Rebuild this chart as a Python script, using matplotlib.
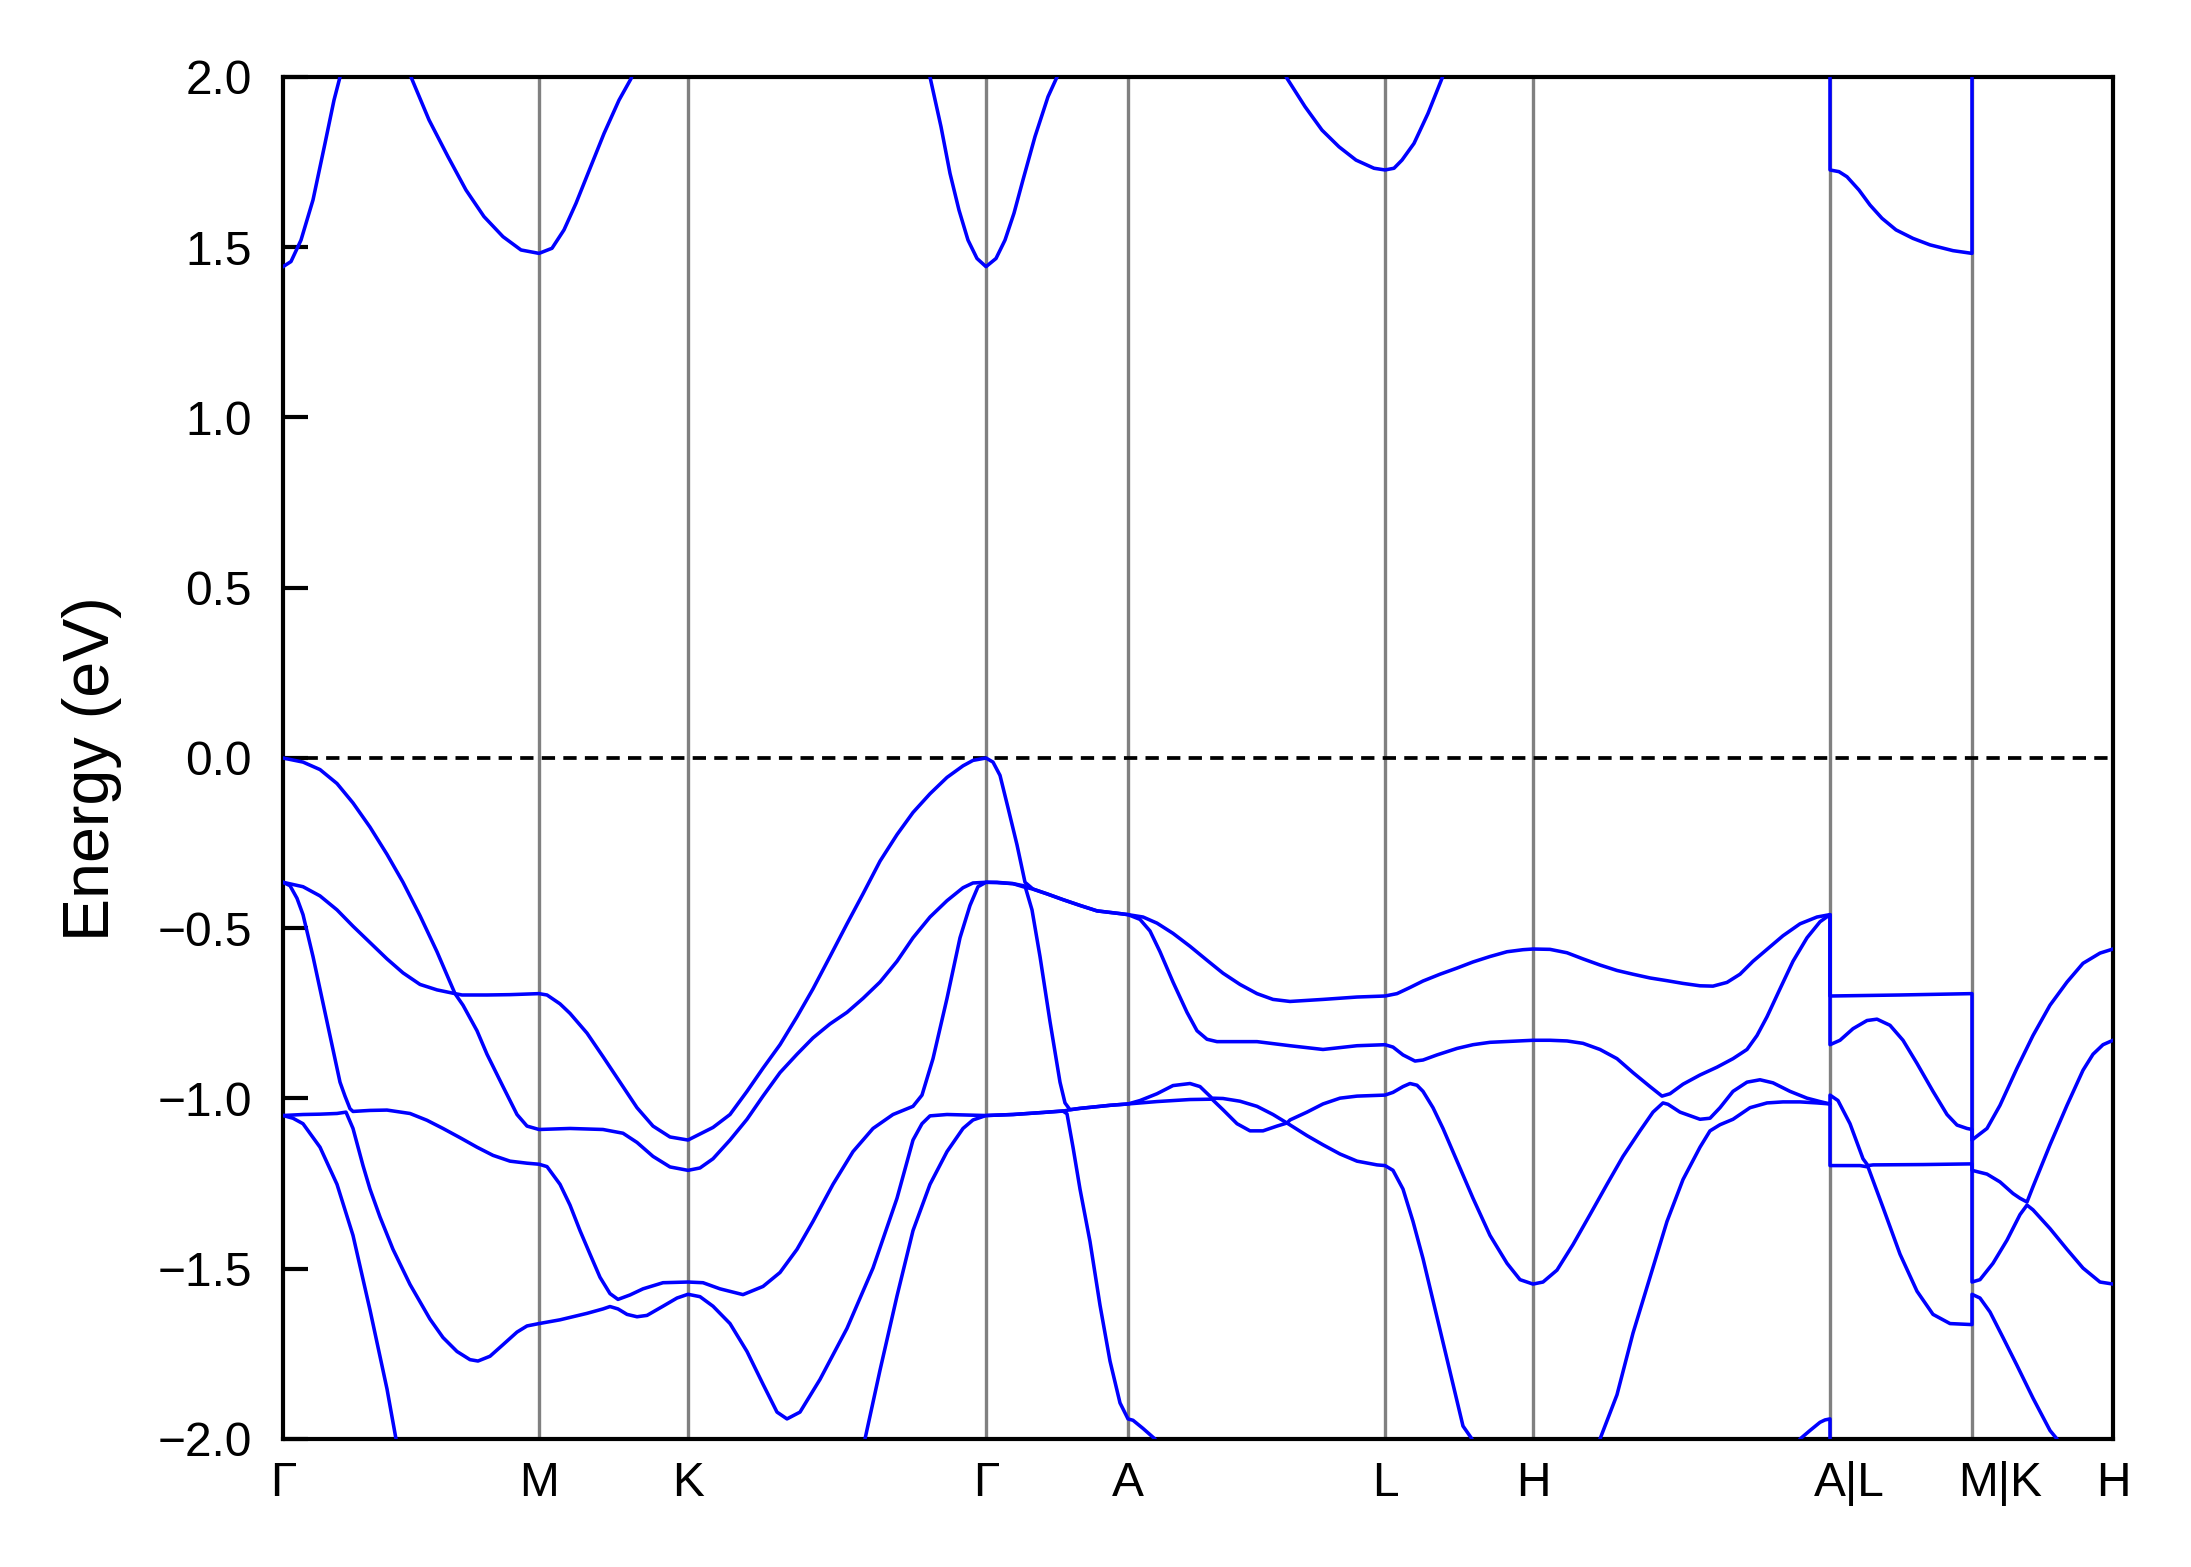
import numpy as np
import matplotlib
matplotlib.use("Agg")
import matplotlib.pyplot as plt

plt.rcParams['font.family'] = ['Liberation Sans', 'DejaVu Sans']

# high-symmetry path
label_pos = [0.000, 0.256, 0.405, 0.703, 0.845, 1.102, 1.250, 1.566, 1.717, 1.830]
label_txt = ["Γ", "M", "K", "Γ", "A", "L", "H", "A|L", "M|K", "H"]
boundaries = [0.256, 0.405, 0.703, 0.845, 1.102, 1.250, 1.547, 1.689]
yticks = [-2.0, -1.5, -1.0, -0.5, 0.0, 0.5, 1.0, 1.5, 2.0]

# bands: (k, E in eV)
cb1 = [(0.000, 1.443), (0.008, 1.458), (0.018, 1.521), (0.030, 1.639), (0.042, 1.805), (0.051, 1.932),
       (0.057, 2.000), (0.075, 2.20), (0.092, 2.26), (0.110, 2.18), (0.128, 2.000), (0.146, 1.874),
       (0.165, 1.766), (0.183, 1.668), (0.201, 1.590), (0.220, 1.531), (0.238, 1.492), (0.256, 1.482),
       (0.269, 1.497), (0.281, 1.551), (0.293, 1.629), (0.305, 1.717), (0.321, 1.834), (0.336, 1.932),
       (0.348, 1.995), (0.370, 2.20), (0.405, 2.40), (0.500, 2.60), (0.600, 2.35), (0.647, 2.000),
       (0.658, 1.854), (0.667, 1.717), (0.676, 1.609), (0.685, 1.521), (0.694, 1.467), (0.703, 1.443),
       (0.713, 1.467), (0.722, 1.521), (0.731, 1.600), (0.740, 1.698), (0.752, 1.825), (0.765, 1.942),
       (0.774, 2.000), (0.800, 2.30), (0.845, 2.45), (0.950, 2.30), (1.004, 1.996), (1.022, 1.913),
       (1.039, 1.844), (1.056, 1.795), (1.073, 1.756), (1.091, 1.732), (1.102, 1.727), (1.111, 1.732),
       (1.119, 1.756), (1.131, 1.805), (1.145, 1.893), (1.159, 1.996), (1.180, 2.20), (1.250, 2.50),
       (1.400, 2.60), (1.547, 2.45), (1.547, 1.727), (1.556, 1.722), (1.564, 1.707), (1.576, 1.668),
       (1.587, 1.624), (1.599, 1.585), (1.613, 1.551), (1.630, 1.526), (1.647, 1.507), (1.670, 1.490),
       (1.689, 1.482), (1.689, 2.40), (1.760, 2.50), (1.830, 2.50)]

vb1 = [(0.000, 0.000), (0.020, -0.012), (0.037, -0.034), (0.054, -0.075), (0.070, -0.132), (0.087, -0.203),
       (0.104, -0.283), (0.120, -0.365), (0.137, -0.463), (0.154, -0.569), (0.167, -0.658), (0.172, -0.692),
       (0.179, -0.696), (0.204, -0.696), (0.227, -0.695), (0.256, -0.692),
       (0.264, -0.696), (0.277, -0.722), (0.287, -0.750), (0.304, -0.808), (0.320, -0.877), (0.337, -0.952),
       (0.354, -1.027), (0.370, -1.081), (0.387, -1.113), (0.405, -1.122),
       (0.430, -1.085), (0.447, -1.047), (0.464, -0.979), (0.480, -0.911), (0.497, -0.842), (0.514, -0.760),
       (0.530, -0.678), (0.547, -0.583), (0.564, -0.487), (0.580, -0.399), (0.597, -0.303), (0.614, -0.225),
       (0.630, -0.160), (0.647, -0.105), (0.664, -0.057), (0.680, -0.023), (0.690, -0.007), (0.703, 0.000),
       (0.710, -0.012), (0.717, -0.051), (0.725, -0.146), (0.734, -0.255), (0.742, -0.365), (0.750, -0.385),
       (0.764, -0.399), (0.780, -0.416), (0.797, -0.433), (0.814, -0.449), (0.837, -0.457), (0.845, -0.460),
       (0.860, -0.467), (0.874, -0.485), (0.890, -0.515), (0.907, -0.553), (0.924, -0.594), (0.940, -0.632),
       (0.957, -0.665), (0.974, -0.692), (0.990, -0.709), (1.007, -0.715), (1.040, -0.709), (1.074, -0.702),
       (1.102, -0.699),
       (1.114, -0.692), (1.127, -0.674), (1.140, -0.655), (1.157, -0.635), (1.174, -0.617), (1.190, -0.599),
       (1.207, -0.583), (1.224, -0.569), (1.240, -0.563), (1.250, -0.561),
       (1.267, -0.562), (1.284, -0.572), (1.300, -0.590), (1.317, -0.608), (1.334, -0.624), (1.350, -0.635),
       (1.367, -0.646), (1.384, -0.654), (1.400, -0.662), (1.417, -0.669), (1.430, -0.670), (1.444, -0.659),
       (1.457, -0.635), (1.470, -0.597), (1.484, -0.562), (1.500, -0.522), (1.517, -0.487), (1.534, -0.467),
       (1.547, -0.460),
       (1.547, -0.699), (1.617, -0.696), (1.689, -0.692),
       (1.689, -1.122), (1.692, -1.115), (1.704, -1.088), (1.717, -1.020), (1.734, -0.911), (1.750, -0.815),
       (1.767, -0.726), (1.784, -0.658), (1.800, -0.603), (1.817, -0.573), (1.830, -0.561)]

vb2 = [(0.000, -0.365), (0.020, -0.378), (0.037, -0.405), (0.054, -0.446), (0.070, -0.494), (0.087, -0.542),
       (0.104, -0.590), (0.120, -0.631), (0.137, -0.665), (0.154, -0.681), (0.172, -0.692), (0.180, -0.726),
       (0.194, -0.801), (0.204, -0.870), (0.220, -0.965), (0.234, -1.047), (0.244, -1.081), (0.256, -1.091),
       (0.287, -1.088), (0.320, -1.091), (0.340, -1.102), (0.354, -1.129), (0.370, -1.170), (0.387, -1.201),
       (0.405, -1.211),
       (0.417, -1.204), (0.430, -1.177), (0.447, -1.122), (0.464, -1.061), (0.480, -0.993), (0.497, -0.924),
       (0.514, -0.870), (0.530, -0.822), (0.547, -0.781), (0.564, -0.747), (0.580, -0.706), (0.597, -0.658),
       (0.614, -0.597), (0.630, -0.528), (0.647, -0.467), (0.664, -0.419), (0.680, -0.381), (0.690, -0.367),
       (0.703, -0.365),
       (0.714, -0.365), (0.730, -0.369), (0.740, -0.378), (0.750, -0.385), (0.764, -0.399), (0.780, -0.416),
       (0.797, -0.433), (0.814, -0.449), (0.837, -0.457), (0.845, -0.460),
       (0.857, -0.474), (0.867, -0.508), (0.877, -0.569), (0.890, -0.658), (0.904, -0.747), (0.914, -0.801),
       (0.924, -0.826), (0.934, -0.833), (0.974, -0.833), (1.007, -0.845), (1.040, -0.856), (1.074, -0.845),
       (1.102, -0.842),
       (1.110, -0.849), (1.120, -0.872), (1.132, -0.890), (1.140, -0.887), (1.154, -0.872), (1.174, -0.853),
       (1.190, -0.842), (1.207, -0.835), (1.250, -0.829),
       (1.267, -0.829), (1.284, -0.831), (1.300, -0.838), (1.317, -0.856), (1.334, -0.883), (1.350, -0.924),
       (1.367, -0.965), (1.379, -0.993), (1.387, -0.986), (1.400, -0.958), (1.417, -0.931), (1.434, -0.908),
       (1.450, -0.883), (1.464, -0.856), (1.474, -0.815), (1.484, -0.760), (1.497, -0.678), (1.510, -0.597),
       (1.524, -0.528), (1.537, -0.481), (1.547, -0.460),
       (1.547, -0.842), (1.557, -0.829), (1.570, -0.795), (1.584, -0.771), (1.594, -0.767), (1.607, -0.785),
       (1.620, -0.829), (1.634, -0.897), (1.650, -0.979), (1.664, -1.047), (1.674, -1.078), (1.684, -1.088),
       (1.689, -1.091),
       (1.689, -1.211), (1.704, -1.222), (1.717, -1.245), (1.730, -1.279), (1.737, -1.293), (1.744, -1.304),
       (1.750, -1.259), (1.767, -1.136), (1.784, -1.020), (1.800, -0.917), (1.810, -0.870), (1.820, -0.842),
       (1.830, -0.829)]

vb3 = [(0.000, -0.365), (0.007, -0.375), (0.014, -0.412), (0.020, -0.460), (0.030, -0.583), (0.040, -0.720),
       (0.050, -0.856), (0.057, -0.952), (0.062, -0.993), (0.067, -1.030), (0.070, -1.038), (0.087, -1.035),
       (0.104, -1.034), (0.127, -1.044), (0.144, -1.064), (0.160, -1.088), (0.177, -1.115), (0.194, -1.143),
       (0.210, -1.167), (0.227, -1.184), (0.244, -1.190), (0.256, -1.193),
       (0.264, -1.200), (0.277, -1.252), (0.287, -1.313), (0.297, -1.388), (0.307, -1.457), (0.317, -1.525),
       (0.327, -1.573), (0.335, -1.590), (0.347, -1.577), (0.360, -1.559), (0.380, -1.541), (0.405, -1.539),
       (0.420, -1.541), (0.437, -1.559), (0.460, -1.576), (0.480, -1.552), (0.497, -1.511), (0.514, -1.443),
       (0.530, -1.361), (0.550, -1.252), (0.570, -1.156), (0.590, -1.088), (0.610, -1.047), (0.630, -1.023),
       (0.639, -0.990), (0.650, -0.883), (0.664, -0.706), (0.677, -0.528), (0.687, -0.433), (0.695, -0.378),
       (0.703, -0.365),
       (0.714, -0.366), (0.730, -0.369), (0.742, -0.376), (0.749, -0.446), (0.757, -0.583), (0.767, -0.774),
       (0.777, -0.952), (0.782, -1.013), (0.787, -1.033), (0.797, -1.029), (0.814, -1.024), (0.827, -1.020),
       (0.845, -1.016),
       (0.857, -1.006), (0.874, -0.986), (0.890, -0.962), (0.907, -0.956), (0.917, -0.965), (0.929, -0.999),
       (0.940, -1.000), (0.957, -1.008), (0.974, -1.023), (0.990, -1.047), (1.004, -1.072), (1.007, -1.063),
       (1.024, -1.040), (1.040, -1.016), (1.057, -0.999), (1.074, -0.993), (1.102, -0.990),
       (1.110, -0.982), (1.120, -0.965), (1.127, -0.956), (1.134, -0.961), (1.140, -0.979), (1.150, -1.027),
       (1.160, -1.088), (1.174, -1.184), (1.190, -1.293), (1.207, -1.402), (1.224, -1.484), (1.237, -1.532),
       (1.250, -1.545),
       (1.260, -1.539), (1.274, -1.504), (1.290, -1.429), (1.307, -1.341), (1.324, -1.252), (1.340, -1.170),
       (1.357, -1.095), (1.370, -1.040), (1.380, -1.013), (1.385, -1.017), (1.397, -1.040), (1.417, -1.061),
       (1.427, -1.058), (1.437, -1.027), (1.450, -0.979), (1.464, -0.952), (1.477, -0.945), (1.490, -0.954),
       (1.507, -0.979), (1.524, -0.999), (1.537, -1.009), (1.547, -1.016),
       (1.547, -0.990), (1.555, -1.006), (1.567, -1.074), (1.580, -1.177), (1.585, -1.197), (1.590, -1.195),
       (1.640, -1.194), (1.689, -1.192),
       (1.689, -1.539), (1.697, -1.532), (1.710, -1.484), (1.724, -1.416), (1.737, -1.341), (1.744, -1.313),
       (1.750, -1.327), (1.767, -1.382), (1.784, -1.443), (1.800, -1.498), (1.817, -1.539), (1.830, -1.545)]

vb4 = [(0.000, -1.050), (0.020, -1.047), (0.037, -1.046), (0.054, -1.044), (0.063, -1.040), (0.070, -1.088),
       (0.080, -1.197), (0.087, -1.266), (0.097, -1.348), (0.110, -1.443), (0.127, -1.546), (0.147, -1.648),
       (0.160, -1.702), (0.174, -1.743), (0.187, -1.767), (0.195, -1.771), (0.207, -1.757), (0.220, -1.723),
       (0.234, -1.686), (0.244, -1.668), (0.256, -1.661),
       (0.277, -1.650), (0.304, -1.631), (0.320, -1.618), (0.327, -1.611), (0.335, -1.618), (0.344, -1.634),
       (0.354, -1.641), (0.364, -1.637), (0.380, -1.610), (0.394, -1.586), (0.405, -1.575),
       (0.417, -1.582), (0.430, -1.610), (0.447, -1.661), (0.464, -1.743), (0.480, -1.839), (0.494, -1.921),
       (0.504, -1.941), (0.517, -1.921), (0.537, -1.825), (0.564, -1.675), (0.590, -1.498), (0.614, -1.293),
       (0.630, -1.122), (0.639, -1.074), (0.647, -1.051), (0.664, -1.047), (0.703, -1.050),
       (0.730, -1.047), (0.760, -1.041), (0.782, -1.036), (0.787, -1.033), (0.797, -1.029), (0.814, -1.024),
       (0.827, -1.020), (0.845, -1.016),
       (0.874, -1.009), (0.907, -1.003), (0.929, -1.002), (0.940, -1.033), (0.954, -1.074), (0.967, -1.095),
       (0.980, -1.095), (0.994, -1.081), (1.004, -1.072), (1.024, -1.109), (1.040, -1.136), (1.057, -1.163),
       (1.074, -1.184), (1.094, -1.195), (1.102, -1.197),
       (1.110, -1.211), (1.120, -1.266), (1.130, -1.361), (1.140, -1.470), (1.150, -1.593), (1.160, -1.716),
       (1.170, -1.839), (1.180, -1.962), (1.189, -2.000), (1.200, -2.13), (1.215, -2.28), (1.232, -2.42),
       (1.250, -2.48),
       (1.270, -2.42), (1.290, -2.25), (1.305, -2.12), (1.317, -2.000), (1.334, -1.870), (1.350, -1.689),
       (1.367, -1.525), (1.384, -1.361), (1.400, -1.238), (1.417, -1.143), (1.427, -1.095), (1.437, -1.077),
       (1.450, -1.061), (1.467, -1.027), (1.484, -1.013), (1.500, -1.010), (1.517, -1.010), (1.534, -1.013),
       (1.547, -1.016),
       (1.547, -1.197), (1.577, -1.197), (1.585, -1.201), (1.600, -1.320), (1.617, -1.457), (1.634, -1.566),
       (1.650, -1.634), (1.667, -1.661), (1.689, -1.664),
       (1.689, -1.575), (1.697, -1.586), (1.707, -1.627), (1.720, -1.702), (1.734, -1.784), (1.750, -1.880),
       (1.767, -1.975), (1.774, -2.000), (1.790, -2.18), (1.810, -2.36), (1.830, -2.48)]

vb5 = [(0.000, -1.050), (0.010, -1.058), (0.020, -1.074), (0.037, -1.143), (0.054, -1.252), (0.070, -1.402),
       (0.087, -1.621), (0.104, -1.853), (0.113, -2.000), (0.130, -2.25), (0.160, -2.60), (0.200, -2.90),
       (0.256, -3.10), (0.405, -3.30), (0.480, -3.10), (0.520, -2.80), (0.550, -2.45), (0.582, -2.000),
       (0.597, -1.798), (0.614, -1.580), (0.630, -1.388), (0.647, -1.252), (0.664, -1.156), (0.680, -1.088),
       (0.690, -1.063), (0.703, -1.050), (0.730, -1.047), (0.760, -1.041), (0.780, -1.037), (0.784, -1.045),
       (0.790, -1.143), (0.797, -1.266), (0.807, -1.420), (0.817, -1.607), (0.827, -1.771), (0.837, -1.894),
       (0.845, -1.941), (0.850, -1.945), (0.860, -1.969), (0.872, -2.000), (0.900, -2.20), (0.950, -2.45),
       (1.020, -2.65), (1.102, -2.75), (1.250, -3.00), (1.400, -2.70), (1.460, -2.40), (1.490, -2.15),
       (1.517, -2.000), (1.527, -1.975), (1.537, -1.951), (1.542, -1.944), (1.547, -1.941),
       (1.547, -2.75), (1.689, -3.10), (1.689, -3.30), (1.830, -3.00)]

bands = [cb1, vb1, vb2, vb3, vb4, vb5]

W, H = 2191, 1567
fig = plt.figure(figsize=(W / 300, H / 300), dpi=300)
ax = fig.add_axes([283 / W, 1 - 1439 / H, (2113 - 283) / W, (1439 - 77) / H])

for b in boundaries:
    ax.axvline(b, color='#808080', lw=0.8, zorder=1)
ax.axhline(0.0, color='black', lw=0.9, ls=(0, (3.55, 2.2)), zorder=2)

for band in bands:
    arr = np.array(band)
    ax.plot(arr[:, 0], arr[:, 1], color='blue', lw=0.85, zorder=3)

ax.set_xlim(label_pos[0], label_pos[-1])
ax.set_ylim(-2.0, 2.0)
ax.set_xticks(label_pos)
ax.set_xticklabels(label_txt)
ax.set_yticks(yticks)
ax.tick_params(axis='y', direction='in', length=6, width=1.0, labelsize=11.5, pad=7.5)
ax.tick_params(axis='x', length=0, labelsize=11.5, pad=5.3)
for s in ax.spines.values():
    s.set_linewidth(1.0)

ax.set_ylabel("Energy (eV)", fontsize=15.5)
ax.yaxis.set_label_coords((121.7 - 283) / (2113 - 283), (1439 - 769) / (1439 - 77))

fig.savefig("out.png", dpi=300)
